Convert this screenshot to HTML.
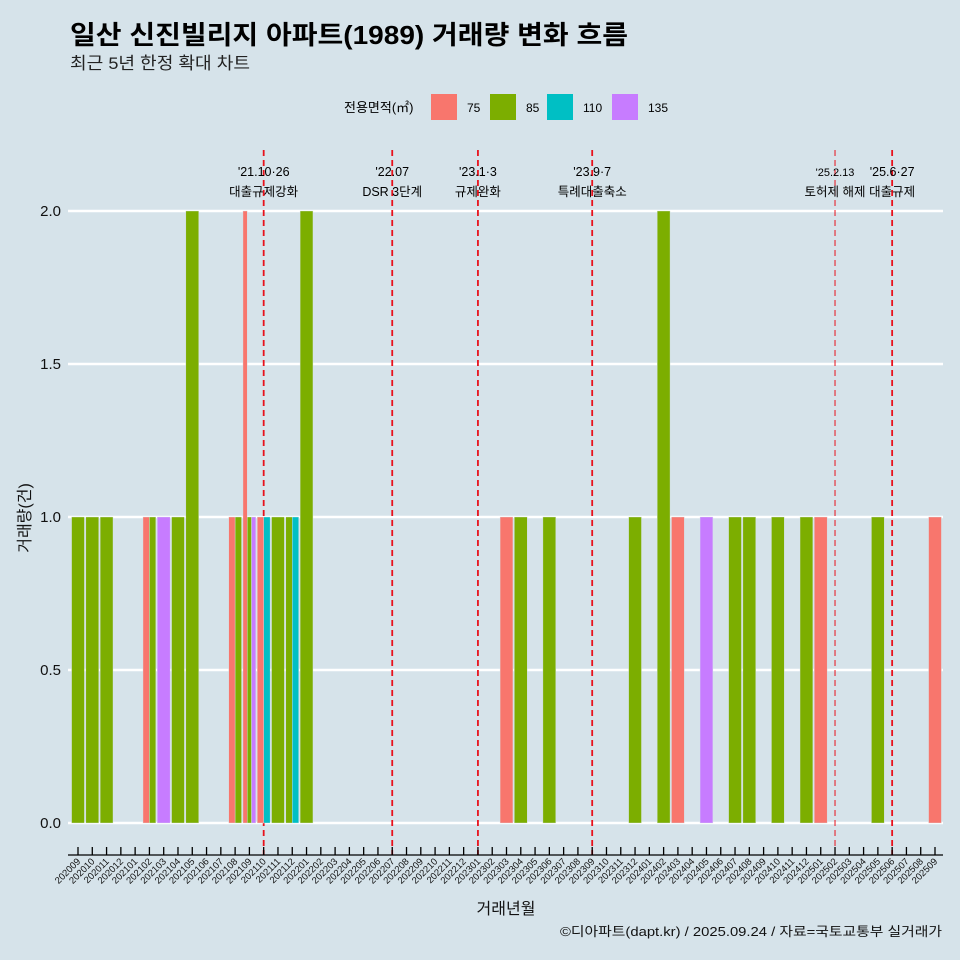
<!DOCTYPE html>
<html><head><meta charset="utf-8">
<style>
body{margin:0;background:#d6e3ea;}
svg{display:block;font-family:"Liberation Sans","Noto Sans CJK KR",sans-serif;}
</style></head>
<body>
<svg id="chart" width="960" height="960" viewBox="0 0 960 960">
<rect x="0" y="0" width="960" height="960" fill="#d6e3ea"/>
<text x="70" y="44" font-size="26" font-weight="bold" fill="#000" textLength="558" lengthAdjust="spacingAndGlyphs">일산 신진빌리지 아파트(1989) 거래량 변화 흐름</text>
<text x="70" y="69" font-size="17" fill="#222" textLength="180" lengthAdjust="spacingAndGlyphs">최근 5년 한정 확대 차트</text>
<g id="legend">
<text x="344" y="112" font-size="13" fill="#000">전용면적(㎡)</text>
</g>
<g id="grid"></g>
<g id="events"></g>
<g id="bars"></g>
<g id="axes"></g>
<text x="30" y="518" font-size="16" fill="#111" transform="rotate(-90 30 518)" text-anchor="middle">거래량(건)</text>
<text x="506" y="914" font-size="16" fill="#111" text-anchor="middle">거래년월</text>
<text x="942" y="936" font-size="13" fill="#111" text-anchor="end" textLength="382" lengthAdjust="spacingAndGlyphs">©디아파트(dapt.kr) / 2025.09.24 / 자료=국토교통부 실거래가</text>
</svg>
<script>
const months = [];
for (let y = 2020, m = 9; !(y === 2025 && m === 10); ) { months.push(String(y) + String(m).padStart(2, '0')); m++; if (m > 12) { m = 1; y++; } }
const areaNames = ['75', '85', '110', '135'];
const areaColors = ['#f8766d', '#7cae00', '#00bfc4', '#c77cff'];
const tradeMonths = ['202009','202010','202011','202102','202102','202103','202104','202105','202108','202108','202109','202109','202109','202110','202110','202111','202112','202112','202201','202303','202304','202306','202312','202402','202403','202405','202407','202408','202410','202412','202501','202505','202509'];
const tradeAreas = ['85','85','85','75','85','135','85','85','75','85','75','85','135','75','110','85','85','110','85','75','85','85','85','85','75','135','85','85','85','85','75','85','75'];
const tradeCounts = [1,1,1,1,1,1,1,2,1,1,2,1,1,1,1,1,1,1,2,1,1,1,1,2,1,1,1,1,1,1,1,1,1];
const yTicks = [0, 0.5, 1, 1.5, 2];
const yTickLabels = ['0.0', '0.5', '1.0', '1.5', '2.0'];
const eventMonths = ['202110', '202207', '202301', '202309', '202502', '202506'];
const eventDates = ["'21.10·26", "'22.07", "'23.1·3", "'23.9·7", "'25.2.13", "'25.6·27"];
const eventNames = ['대출규제강화', 'DSR 3단계', '규제완화', '특례대출축소', '토허제 해제', '대출규제'];

const NS = 'http://www.w3.org/2000/svg';
function mk(tag, attrs, parent, text) { const e = document.createElementNS(NS, tag); for (const k in attrs) e.setAttribute(k, attrs[k]); if (text !== undefined) e.textContent = text; parent.appendChild(e); return e; }
const X0 = 78, STEP = (935 - 78) / 60, BW = STEP * 0.9;
const xPos = m => X0 + months.indexOf(m) * STEP;
const Y0 = 823, YU = (823 - 211) / 2;
const yPos = v => Y0 - v * YU;

const lg = document.getElementById('legend');
const lx = [431, 490, 547, 612];
areaNames.forEach((n, i) => {
  const r = mk('rect', {x: lx[i], y: 94, width: 26, height: 26, fill: areaColors[i]}, lg);
  
  
  const t = mk('text', {x: lx[i] + 36, y: 112, 'font-size': 12, fill: '#000'}, lg, n);
  
  
});

const grid = document.getElementById('grid');
yTicks.forEach((v, i) => {
  const l = mk('line', {x1: 68, x2: 943, y1: yPos(v), y2: yPos(v), stroke: '#fff', 'stroke-width': 2.5}, grid);
  
  
  const t = mk('text', {x: 61, y: yPos(v) + 5, 'font-size': 15, fill: '#111', 'text-anchor': 'end'}, grid, yTickLabels[i]);
  
  
});

const bars = document.getElementById('bars');
months.forEach(m => {
  const idx = [];
  tradeMonths.forEach((tm, i) => { if (tm === m) idx.push(i); });
  idx.sort((a, b) => areaNames.indexOf(tradeAreas[a]) - areaNames.indexOf(tradeAreas[b]));
  const w = BW / Math.max(idx.length, 1);
  idx.forEach((i, k) => {
    const x = xPos(m) - BW / 2 + k * w;
    const r = mk('rect', {x: x, y: yPos(tradeCounts[i]), width: w, height: Y0 - yPos(tradeCounts[i]), fill: areaColors[areaNames.indexOf(tradeAreas[i])], stroke: '#d6e3ea', 'stroke-width': 0.4}, bars);
    
    
  });
});

const ev = document.getElementById('events');
eventMonths.forEach((m, i) => {
  const x = xPos(m);
  const thin = m === '202502';
  const l = mk('line', {x1: x, x2: x, y1: 150, y2: 855, stroke: '#e8111b', 'stroke-width': thin ? 1 : 1.8, 'stroke-dasharray': '6,4'}, ev);
  
  
  const t1 = mk('text', {x: x, y: 176, 'font-size': thin ? 11 : 12.5, fill: '#000', 'text-anchor': 'middle'}, ev, eventDates[i]);
  
  
  const t2 = mk('text', {x: x, y: 196, 'font-size': 12.5, fill: '#000', 'text-anchor': 'middle'}, ev, eventNames[i]);
  
  
});

const ax = document.getElementById('axes');
const al = mk('line', {x1: 68, x2: 943, y1: 855, y2: 855, stroke: '#000', 'stroke-width': 1.3}, ax);


months.forEach(m => {
  const x = xPos(m);
  const tk = mk('line', {x1: x, x2: x, y1: 847, y2: 855, stroke: '#000', 'stroke-width': 1.3}, ax);
  
  
  const t = mk('text', {x: x + 3, y: 862, 'font-size': 9.5, fill: '#111', 'text-anchor': 'end', transform: 'rotate(-45 ' + (x + 3) + ' 862)'}, ax, m);
  
  
});
</script>
</body></html>
